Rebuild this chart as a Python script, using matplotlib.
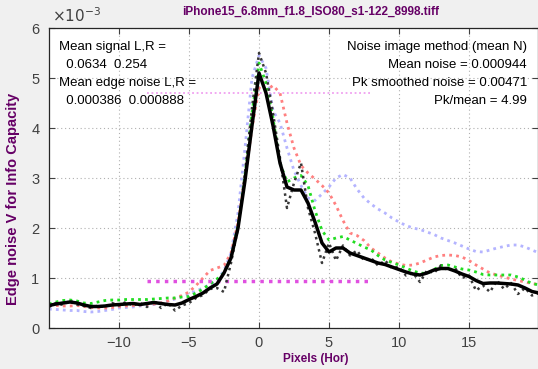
import numpy as np
import matplotlib
matplotlib.use("Agg")
import matplotlib.pyplot as plt

plt.rcParams['font.family'] = ['Liberation Sans', 'DejaVu Sans']

# pixel positions (hor), step 0.5
x = np.arange(-15, 20.01, 0.5)

# values in units of 1e-3
smooth = [0.45, 0.48, 0.50, 0.52, 0.50, 0.46, 0.43, 0.43, 0.44, 0.46,
          0.47, 0.48, 0.49, 0.47, 0.49, 0.51, 0.49, 0.47, 0.46, 0.50,
          0.57, 0.63, 0.70, 0.80, 0.88, 1.10, 1.40, 2.00, 2.95, 4.05,
          5.10, 4.70, 4.05, 3.30, 2.82, 2.76, 2.76, 2.50, 2.12, 1.70,
          1.52, 1.60, 1.60, 1.50, 1.45, 1.40, 1.35, 1.30, 1.27, 1.22,
          1.17, 1.12, 1.08, 1.06, 1.10, 1.16, 1.19, 1.19, 1.14, 1.08,
          1.03, 0.95, 0.89, 0.90, 0.90, 0.89, 0.88, 0.86, 0.80, 0.73,
          0.70]
raw = [0.42, 0.50, 0.46, 0.55, 0.47, 0.44, 0.40, 0.45, 0.42, 0.50,
       0.45, 0.52, 0.45, 0.50, 0.42, 0.55, 0.40, 0.50, 0.35, 0.45,
       0.50, 0.60, 0.66, 0.78, 0.80, 0.72, 1.30, 2.00, 3.10, 4.40,
       5.50, 5.10, 4.30, 3.40, 2.40, 2.90, 3.30, 2.40, 1.90, 1.30,
       1.70, 1.35, 1.65, 1.45, 1.55, 1.35, 1.40, 1.25, 1.35, 1.20,
       1.22, 1.05, 1.10, 0.92, 1.15, 1.10, 1.25, 1.15, 1.20, 1.00,
       1.05, 0.75, 0.85, 0.72, 0.95, 0.78, 0.90, 0.68, 0.80, 0.65,
       0.70]
green = [0.48, 0.52, 0.55, 0.56, 0.54, 0.50, 0.49, 0.52, 0.55, 0.56,
         0.56, 0.57, 0.57, 0.57, 0.57, 0.58, 0.59, 0.60, 0.60, 0.62,
         0.63, 0.70, 0.78, 0.88, 0.98, 1.10, 1.40, 2.05, 3.05, 4.30,
         5.30, 4.90, 4.20, 3.30, 2.92, 3.00, 3.05, 2.85, 2.35, 1.95,
         1.76, 1.80, 1.83, 1.76, 1.69, 1.62, 1.56, 1.45, 1.36, 1.31,
         1.26, 1.20, 1.14, 1.10, 1.09, 1.17, 1.25, 1.26, 1.22, 1.18,
         1.16, 1.12, 1.07, 1.06, 1.06, 1.06, 1.06, 1.02, 0.96, 0.89,
         0.86]
red = [0.45, 0.45, 0.44, 0.44, 0.45, 0.43, 0.41, 0.40, 0.40, 0.41,
       0.43, 0.44, 0.45, 0.46, 0.47, 0.48, 0.50, 0.54, 0.60, 0.65,
       0.72, 0.85, 1.00, 1.15, 1.20, 1.25, 1.50, 2.10, 3.00, 4.00,
       4.80, 4.75, 4.85, 4.70, 4.10, 3.60, 3.25, 3.10, 2.98, 2.85,
       2.70, 2.45, 2.15, 1.90, 1.85, 1.75, 1.60, 1.50, 1.40, 1.32,
       1.28, 1.25, 1.26, 1.30, 1.36, 1.42, 1.45, 1.46, 1.45, 1.42,
       1.35, 1.26, 1.18, 1.10, 1.06, 1.02, 0.98, 0.95, 0.92, 0.89,
       0.87]
blue = [0.38, 0.37, 0.36, 0.35, 0.35, 0.33, 0.32, 0.33, 0.35, 0.37,
        0.40, 0.41, 0.42, 0.44, 0.45, 0.47, 0.50, 0.54, 0.58, 0.63,
        0.68, 0.74, 0.80, 0.87, 0.95, 1.15, 1.50, 2.30, 3.60, 5.00,
        5.45, 5.20, 4.35, 4.10, 3.60, 3.15, 2.85, 2.60, 2.55, 2.68,
        2.82, 3.00, 3.07, 3.00, 2.78, 2.60, 2.48, 2.38, 2.30, 2.20,
        2.12, 2.05, 2.00, 1.97, 1.92, 1.87, 1.80, 1.75, 1.70, 1.64,
        1.58, 1.53, 1.52, 1.56, 1.60, 1.63, 1.66, 1.66, 1.62, 1.56,
        1.50]

pk_smoothed = 4.71
mean_noise = 0.944
ref_range = [-8, 8]

purple = '#660066'
gray = '#404040'

fig = plt.figure(figsize=(5.38, 3.69), dpi=100, facecolor='#f0f0f0')
ax = fig.add_axes([49/538, 41/369, 489/538, 300/369])

dot = (0, (1, 1.5))
ax.plot(x, blue, color='#b4b4ff', lw=2, ls=dot)
ax.plot(x, red, color='#ff8080', lw=2, ls=dot)
ax.plot(x, green, color='#22dd22', lw=2, ls=dot)
ax.plot(ref_range, [pk_smoothed, pk_smoothed], color='#f0a0f0', lw=1.3, ls=dot)
ax.plot(ref_range, [mean_noise, mean_noise], color='#e050e0', lw=2.5, ls=dot)
ax.plot(x, raw, color='#383838', lw=1.8, ls=dot)
ax.plot(x, smooth, color='black', lw=2.5)

ax.set_xlim(-15, 19.93)
ax.set_ylim(0, 6)
ax.set_xticks([-10, -5, 0, 5, 10, 15])
ax.set_yticks([0, 1, 2, 3, 4, 5, 6])
ax.tick_params(direction='in', labelsize=10.5, colors=gray, top=True, right=True,
               length=4)
ax.tick_params(axis='x', pad=6)
ax.tick_params(axis='y', pad=7)
ax.grid(True, ls=(0, (1, 2.5)), color='#b0b0b0', lw=0.8)
for s in ax.spines.values():
    s.set_color('#262626')
    s.set_linewidth(0.9)

fig.text(52/538, 1 - 16/369, r'$\times10^{-3}$', fontsize=11, color=gray,
         va='center', ha='left')
fig.text(311/538, 1 - 12/369, 'iPhone15_6.8mm_f1.8_ISO80_s1-122_8998.tiff',
         fontsize=8.5, fontweight='bold', color=purple, ha='center', va='center')
fig.text(13/538, 1 - 199/369, 'Edge noise V for Info Capacity', fontsize=10.5,
         fontweight='bold', color=purple, rotation=90, ha='center', va='center')
fig.text(316/538, 1 - 359/369, 'Pixels (Hor)', fontsize=8.5, fontweight='bold',
         color=purple, ha='center', va='center')

left_lines = ['Mean signal L,R =', '  0.0634  0.254', 'Mean edge noise L,R =',
              '  0.000386  0.000888']
right_lines = ['Noise image method (mean N)', 'Mean noise = 0.000944',
               'Pk smoothed noise = 0.00471', 'Pk/mean = 4.99']
ys = [47, 65, 83, 101]
for t, yp in zip(left_lines, ys):
    fig.text(59/538, 1 - yp/369, t, fontsize=9.5, color='black', ha='left', va='center')
for t, yp in zip(right_lines, ys):
    fig.text(527/538, 1 - yp/369, t, fontsize=9.5, color='black', ha='right', va='center')

fig.savefig('out.png', dpi=100, facecolor=fig.get_facecolor())
